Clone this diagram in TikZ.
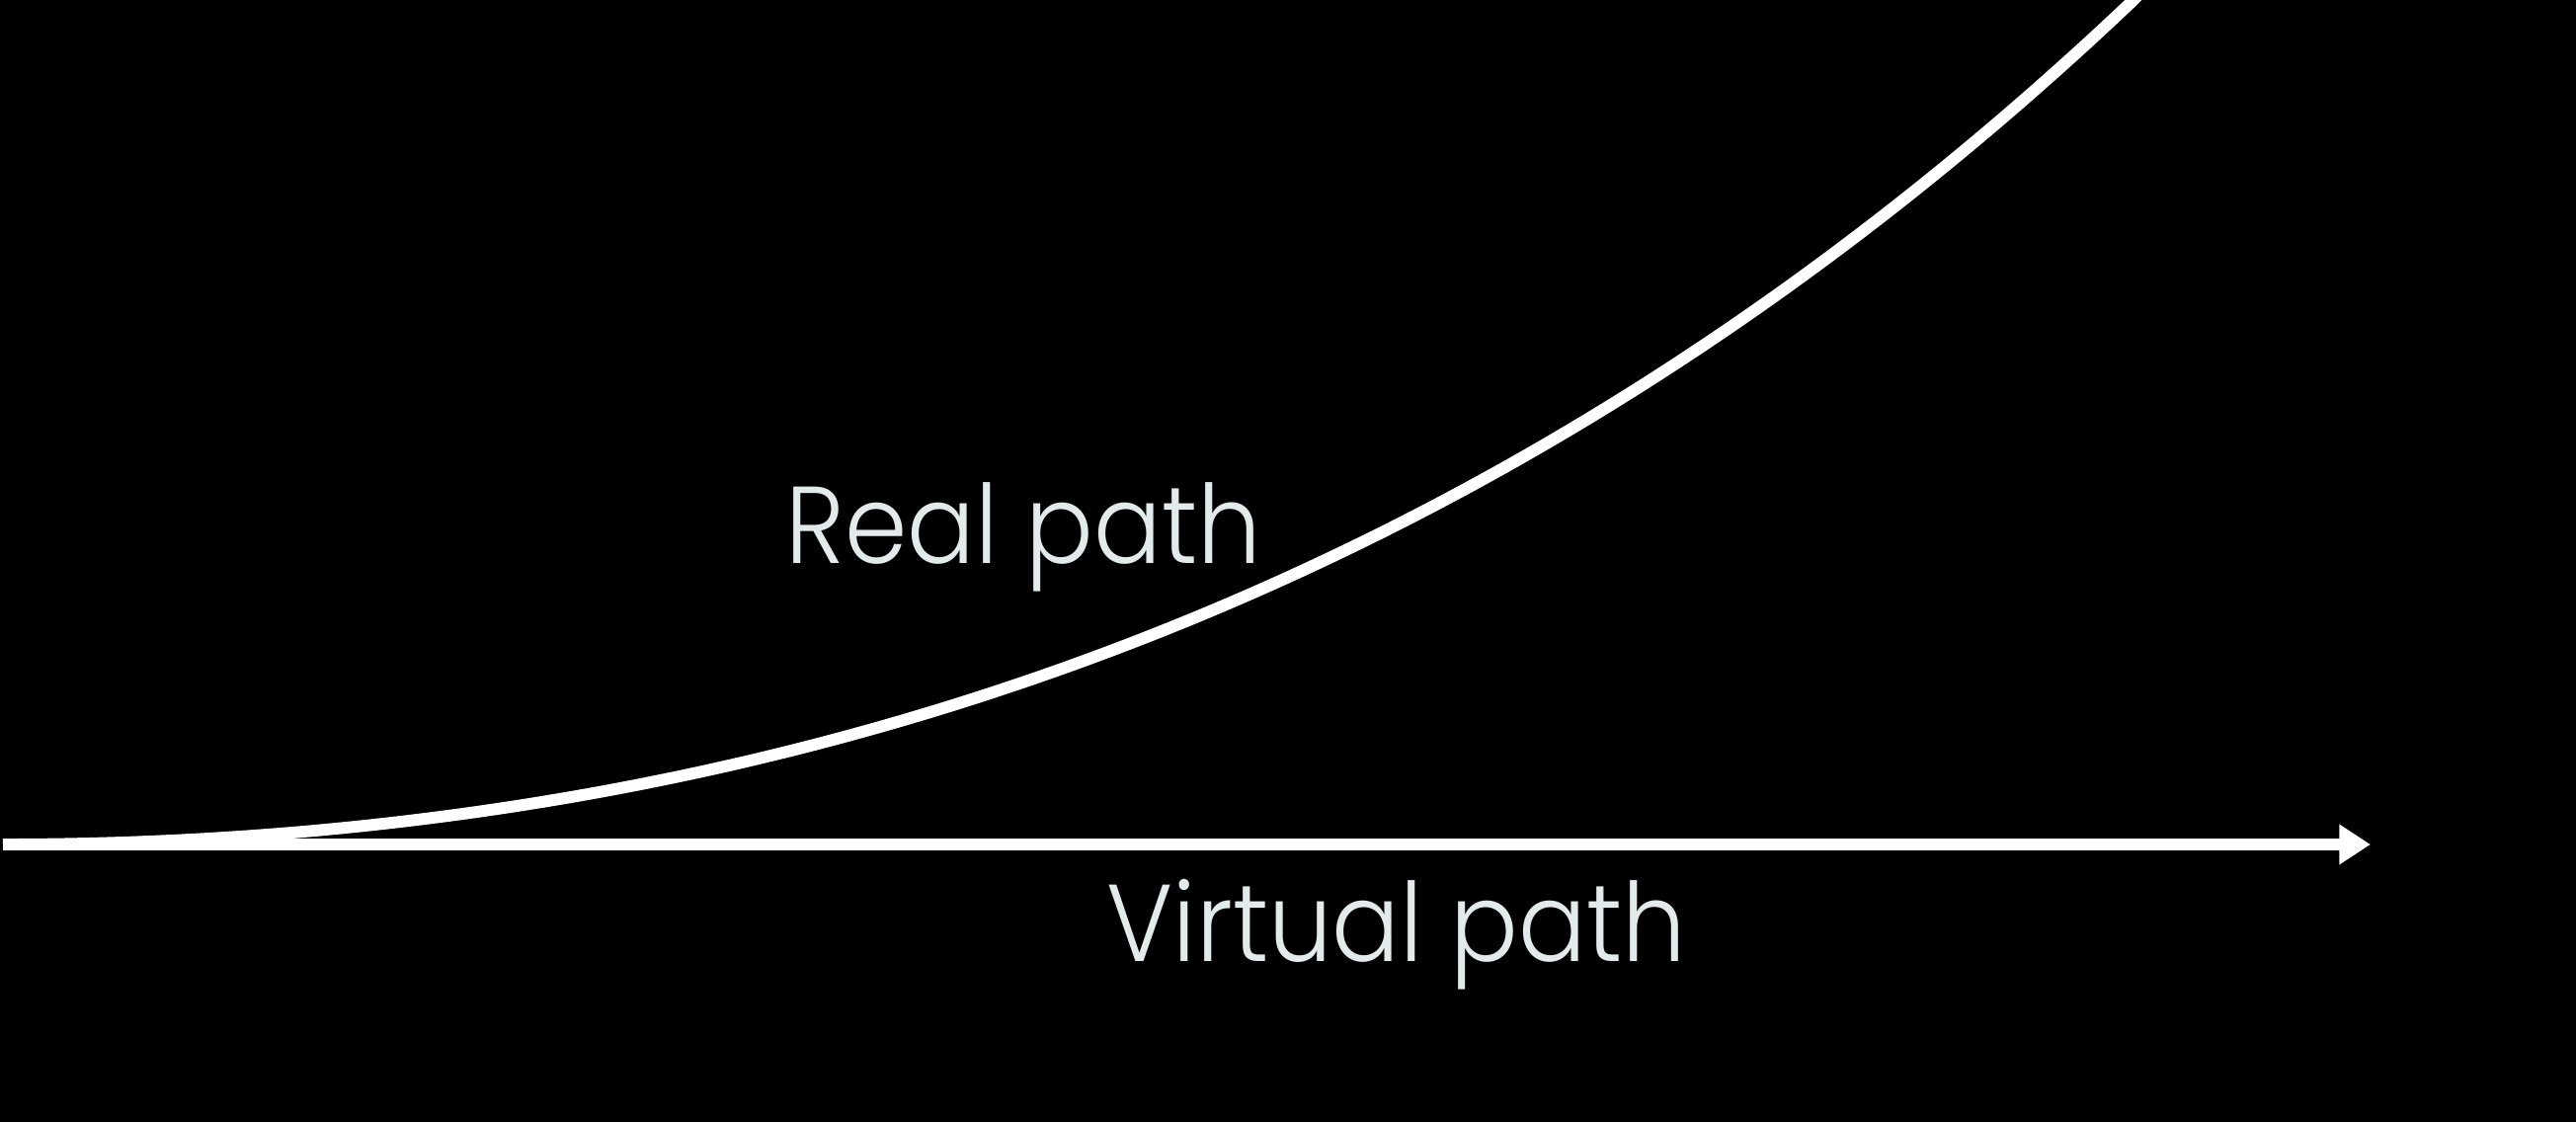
\documentclass[tikz,border=0pt]{standalone}
\usepackage{fontspec}
\setmainfont{Poppins}[UprightFont=* Light, FakeStretch=0.92]
\usetikzlibrary{arrows.meta}
\definecolor{txt}{HTML}{E2EAEC}
\tikzset{
  path line/.style={white, line width=3.4pt},
  label text/.style={text=txt, font=\fontsize{31.5}{36}\selectfont, inner sep=0pt},
}
\begin{document}
\begin{tikzpicture}
\fill[black] (0,0) rectangle (26.08,11.36);
\useasboundingbox (0,0) rectangle (26.08,11.36);
\coordinate (start) at (0.03,2.81);
\coordinate (vend) at (24.00,2.81);
\coordinate (rend) at (21.60,11.36);
\coordinate (rext) at (22.30,12.06);
\begin{scope}
\clip (0,0) rectangle (26.08,11.36);
\draw[path line] (start) .. controls (8.40,2.81) and (15.60,5.66) .. (rend) -- (rext);
\end{scope}
\draw[path line, -{Triangle[length=9pt, width=11pt]}] (start) -- (vend);
\node[label text, anchor=base west] (real) at (7.95,5.66) {Real path};
\node[label text, anchor=base west] (virtual) at (11.20,1.63) {Virtual path};
\end{tikzpicture}
\end{document}
